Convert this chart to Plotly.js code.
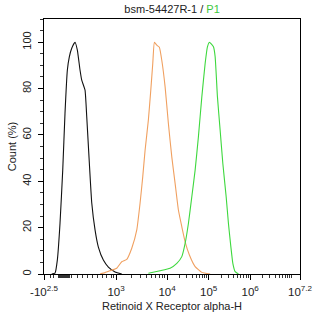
<!DOCTYPE html>
<html>
<head>
<meta charset="utf-8">
<script src="https://cdn.plot.ly/plotly-3.0.1.min.js"></script>
<style>
  html, body { margin: 0; padding: 0; background: #fff; }
  #chart { width: 314px; height: 317px; }
</style>
</head>
<body>
<div id="chart"></div>
<script>
// Fluorescence is plotted on a biexponential display scale:
// one display unit per decade above 10^4, compressed/linear near zero.

// Isotype control (black)
const isotypeX = [1.222, 1.301, 1.357, 1.422, 1.487, 1.542, 1.598, 1.646, 1.704, 1.783,
                  1.839, 1.904, 1.945, 2.024, 2.065, 2.128, 2.186, 2.265, 2.345, 2.465,
                  2.586, 2.747, 2.908];
const isotypeY = [0, 0.4, 6.0, 22.0, 44.8, 69.4, 87.9, 93.7, 97.4, 100,
                  96.6, 87.9, 83.6, 79.3, 67.8, 47.8, 30.6, 19.0, 11.6, 6.0,
                  3.0, 0.9, 0];

// Unstained / blank sample (orange)
const blankX = [2.386, 2.506, 2.627, 2.788, 2.908, 3.029, 3.149, 3.270, 3.349, 3.414,
                3.470, 3.549, 3.607, 3.655, 3.694, 3.752, 3.814, 3.872, 3.952, 4.031,
                4.113, 4.193, 4.272, 4.354, 4.434, 4.537, 4.675, 4.836, 5.036];
const blankY = [0, 0.6, 1.4, 2.5, 5.3, 6.3, 11.1, 19.0, 30.5, 42.0,
                53.4, 66.4, 79.3, 90.8, 100, 98.7, 97.8, 92.2, 80.7, 64.9,
                50.5, 39.1, 27.6, 20.4, 13.9, 8.2, 3.2, 0.7, 0];

// Stained sample, bsm-54427R-1 (green)
const stainedX = [3.549, 3.831, 4.072, 4.234, 4.354, 4.434, 4.513, 4.595, 4.675, 4.754,
                  4.836, 4.916, 4.971, 5.019, 5.116, 5.157, 5.212, 5.277, 5.342, 5.422,
                  5.477, 5.535, 5.583, 5.639, 5.718];
const stainedY = [0.3, 1.4, 2.5, 4.6, 7.5, 13.2, 21.8, 33.3, 44.8, 59.2,
                  76.4, 90.8, 98.0, 100, 98.0, 93.7, 76.4, 62.1, 47.7, 33.3,
                  21.8, 11.8, 4.6, 1.0, 0];

// Axis ticks
const xTickVals = [1.036, 2.771, 4, 5, 6, 7.2];
const xTickText = ['-10<sup>2.5</sup>', '10<sup>3</sup>', '10<sup>4</sup>',
                   '10<sup>5</sup>', '10<sup>6</sup>', '10<sup>7.2</sup>'];
const yTickVals = [0, 20, 40, 60, 80, 100];
const yTickText = ['0', '20', '40', '60', '80', '100'];

// Minor ticks: dense near zero, logarithmic in the upper decades
const xMinorVals = [];
[1.19, 1.26, 1.38, 1.41, 1.43, 1.46, 1.48, 1.51, 1.53, 1.56, 1.58, 1.61, 1.63, 1.65,
 1.70, 1.85, 1.97, 2.09, 2.21, 2.33, 2.45, 2.55, 2.65, 2.72].forEach(v => xMinorVals.push(v));
for (let m = 2; m <= 9; m++) xMinorVals.push(2.771 + Math.log10(m) * (4 - 2.771));
for (let d = 4; d <= 7; d++) {
  for (let m = 1; m <= 9; m++) {
    const v = d + Math.log10(m);
    if (v < 7.2 && !(m === 1 && d < 7)) xMinorVals.push(v);
  }
}

const font = { family: 'Liberation Sans, Arial, sans-serif', size: 11, color: '#222' };
const xTickFont = { family: font.family, size: 11.5, color: '#222' };

const traces = [
  { x: isotypeX, y: isotypeY, type: 'scatter', mode: 'lines',
    line: { color: '#111111', width: 1.1, shape: 'spline', smoothing: 0.4 }, hoverinfo: 'skip' },
  { x: blankX, y: blankY, type: 'scatter', mode: 'lines',
    line: { color: '#f0a060', width: 1.1, shape: 'spline', smoothing: 0.4 }, hoverinfo: 'skip' },
  { x: stainedX, y: stainedY, type: 'scatter', mode: 'lines',
    line: { color: '#3ed83e', width: 1.1, shape: 'spline', smoothing: 0.4 }, hoverinfo: 'skip' }
];

const layout = {
  width: 314, height: 317,
  margin: { l: 44, r: 14, t: 19, b: 43, pad: 0 },
  paper_bgcolor: '#fff', plot_bgcolor: '#fff',
  showlegend: false,
  font: font,
  title: {
    text: 'bsm-54427R-1 / <span style="color:#3ec83e">P1</span>',
    font: { family: font.family, size: 11, color: '#222' },
    x: 0.548, xanchor: 'center', xref: 'container',
    y: 0.972, yanchor: 'middle', yref: 'container'
  },
  xaxis: {
    range: [1.036, 7.2], showgrid: false, zeroline: false,
    showline: true, linecolor: '#000', linewidth: 1, mirror: true,
    ticks: 'outside', ticklen: 5, tickwidth: 1, tickcolor: '#000',
    tickmode: 'array', tickvals: xTickVals, ticktext: xTickText,
    tickfont: xTickFont, ticklabelstandoff: 2,
    minor: { tickmode: 'array', tickvals: xMinorVals, ticks: 'outside', ticklen: 3, tickcolor: '#333', tickwidth: 1 },
    title: { text: 'Retinoid X Receptor alpha-H', font: font, standoff: 5 },
    fixedrange: true
  },
  yaxis: {
    range: [0, 110], showgrid: false, zeroline: false,
    showline: true, linecolor: '#000', linewidth: 1, mirror: true,
    ticks: 'outside', ticklen: 5, tickwidth: 1, tickcolor: '#000',
    tickmode: 'array', tickvals: yTickVals, ticktext: yTickText,
    tickangle: -90, tickfont: font, ticklabelstandoff: 3,
    minor: { dtick: 5, tick0: 0, ticks: 'outside', ticklen: 3, tickcolor: '#333', tickwidth: 1 },
    title: { text: 'Count (%)', font: font, standoff: 1 },
    fixedrange: true
  }
};

Plotly.newPlot('chart', traces, layout, { staticPlot: true, displayModeBar: false });
</script>
</body>
</html>
